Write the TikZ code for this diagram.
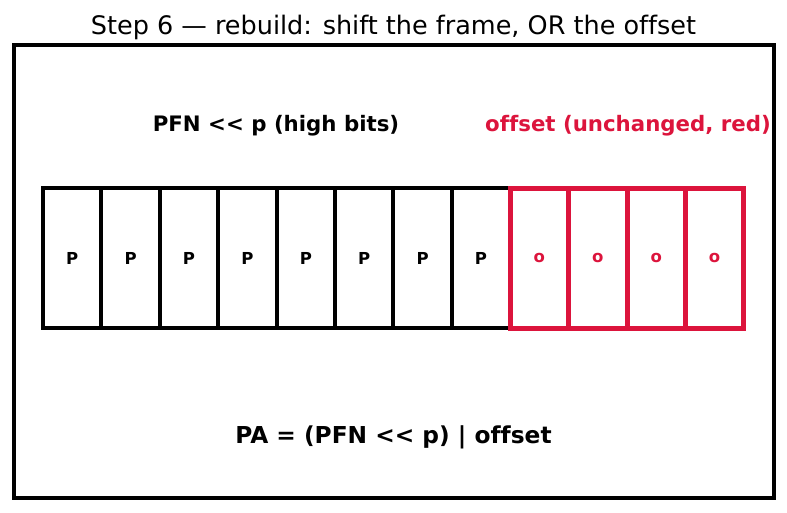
\documentclass[tikz,border=0pt]{standalone}
\usepackage{fontspec}
\setmainfont{DejaVu Sans}[Ligatures=NoCommon]
\definecolor{crim}{HTML}{DC143C}
\newcommand{\shl}{<\kern0pt<}
\begin{document}
\begin{tikzpicture}[x=1pt,y=-1pt,
  cellb/.style={draw=black,line width=4pt,minimum width=58.4pt,minimum height=140pt,inner sep=0pt,font=\bfseries\fontsize{16.5}{18}\selectfont},
  cellr/.style={draw=crim,line width=5pt,minimum width=58.4pt,minimum height=140pt,inner sep=0pt,text=crim,font=\bfseries\fontsize{16.5}{18}\selectfont},
  lbl/.style={font=\bfseries\fontsize{21.3}{24}\selectfont,inner sep=0pt}]
\useasboundingbox (0,0) rectangle (787,512);
\node[draw,line width=4pt,minimum width=760pt,minimum height=453pt,inner sep=0pt] (frame) at (394,271.5) {};
\node[font=\fontsize{25.5}{28}\selectfont,inner sep=0pt] (title) at (393.5,27) {Step 6 — rebuild: shift the frame, OR the offset};
\foreach \i in {0,...,7} {
  \node[cellb] (c\i) at ({72.2+58.4*\i},258) {P};
}
\foreach \i in {8,...,11} {
  \node[cellr] (c\i) at ({72.2+58.4*\i},258) {o};
}
\node[lbl] (hi) at (276,126) {PFN \shl{} p (high bits)};
\node[lbl,text=crim] (lo) at (628,126) {offset (unchanged, red)};
\node[font=\bfseries\fontsize{23.3}{26}\selectfont,inner sep=0pt] (pa) at (393.5,437) {PA = (PFN \shl{} p) | offset};
\end{tikzpicture}
\end{document}
